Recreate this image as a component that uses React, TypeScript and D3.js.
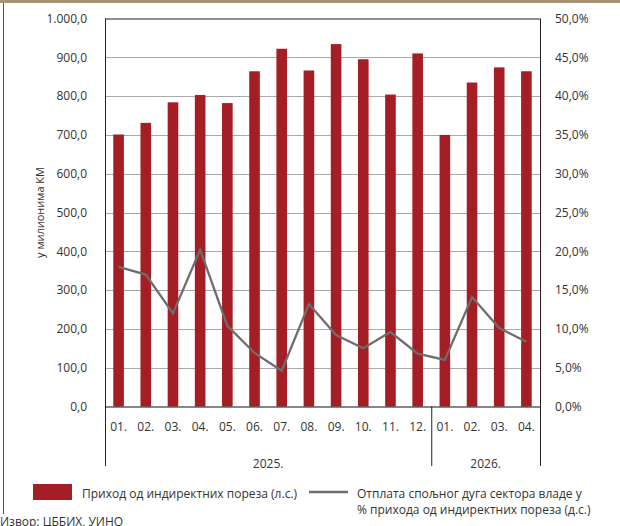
import React from "react";
import * as d3 from "d3";

const months = ["01.", "02.", "03.", "04.", "05.", "06.", "07.", "08.", "09.", "10.", "11.", "12.", "01.", "02.", "03.", "04."];
const years = ["2025.", "2026."];
const yearCounts = [12, 4];
const revenue = [701, 731, 784, 803, 782, 864, 922, 866, 934, 895, 804, 910, 700, 835, 874, 864];
const repaymentPct = [18.0, 17.0, 12.0, 20.2, 10.4, 6.9, 4.6, 13.2, 9.2, 7.5, 9.6, 6.8, 6.0, 14.1, 10.1, 8.35];
const leftTicks = [0, 100, 200, 300, 400, 500, 600, 700, 800, 900, 1000];
const rightTicks = [0, 5, 10, 15, 20, 25, 30, 35, 40, 45, 50];
const yTitle = "у милионима КМ";
const legendBar = "Приход од индиректних пореза (л.с.)";
const legendLine1 = "Отплата спољног дуга сектора владе у";
const legendLine2 = "% прихода од индиректних пореза (д.с.)";
const source = "Извор: ЦББИХ, УИНО";

const W = 620, H = 526;
const L = 105, R = 540, T = 18.5, B = 406.5;
const FONT = "'Open Sans', 'Noto Sans', sans-serif";
const TXT = "#333";
const BAR = "#a51d25";
const LINE = "#6d6d6d";

const fmtL = (v: number) => d3.format(",.1f")(v).replace(/,/g, "X").replace(/\./g, ",").replace(/X/g, ".");
const fmtR = (v: number) => d3.format(".1f")(v).replace(".", ",") + "%";

export default function App() {
  const idx = months.map((_, i) => i);
  const x = d3.scaleBand<number>().domain(idx).range([L, R]).paddingInner(0.61).paddingOuter(0.305);
  const yL = d3.scaleLinear().domain([0, 1000]).range([B, T]);
  const yR = d3.scaleLinear().domain([0, 50]).range([B, T]);
  const cx = (i: number) => (x(i) as number) + x.bandwidth() / 2;
  const step = (R - L) / months.length;
  const line = d3.line<number>().x((_, i) => cx(i)).y((d) => yR(d));

  const sepXs: number[] = [];
  let acc = 0;
  const yearCenters: number[] = [];
  yearCounts.forEach((c) => {
    const x0 = L + acc * step;
    acc += c;
    const x1 = L + acc * step;
    yearCenters.push((x0 + x1) / 2);
    sepXs.push(x1);
  });

  return (
    <svg width={W} height={H} style={{ position: "absolute", left: 0, top: 0, background: "#fff" }} fontFamily={FONT}>
      <rect x={0} y={0} width={W} height={3} fill="#a89273" />
      <line x1={3.5} x2={3.5} y1={3} y2={514} stroke="#555" strokeWidth={1} />

      {leftTicks.filter((t) => t > 0 && t < 1000).map((t) => (
        <line key={"g" + t} x1={L} x2={R} y1={Math.round(yL(t)) + 0.5} y2={Math.round(yL(t)) + 0.5} stroke="#a9a9a9" strokeWidth={1} />
      ))}

      {revenue.map((v, i) => (
        <rect key={"b" + i} x={x(i)} y={yL(v)} width={x.bandwidth()} height={B - yL(v)} fill={BAR} />
      ))}

      <path d={line(repaymentPct) || ""} fill="none" stroke={LINE} strokeWidth={2.3} strokeLinejoin="miter" />

      {/* frame */}
      <line x1={L} x2={R} y1={T + 0.5} y2={T + 0.5} stroke="#222" strokeWidth={1} />
      <line x1={L + 0.5} x2={L + 0.5} y1={T} y2={466} stroke="#222" strokeWidth={1} />
      {sepXs.map((sx, i) => (
        <line key={"s" + i} x1={sx + 0.5} x2={sx + 0.5} y1={i === sepXs.length - 1 ? T : B} y2={466} stroke="#222" strokeWidth={1} />
      ))}
      <line x1={L} x2={R} y1={B + 0.5} y2={B + 0.5} stroke="#111" strokeWidth={1.2} />

      {leftTicks.map((t) => (
        <text key={"l" + t} x={87} y={yL(t)} dy="0.35em" textAnchor="end" fontSize={12} fill={TXT}>{fmtL(t)}</text>
      ))}
      {rightTicks.map((t) => (
        <text key={"r" + t} x={555} y={yR(t)} dy="0.35em" textAnchor="start" fontSize={12} fill={TXT}>{fmtR(t)}</text>
      ))}

      <text transform={`translate(44,${(T + B) / 2}) rotate(-90)`} textAnchor="middle" fontSize={11} fill={TXT}>{yTitle}</text>

      {months.map((m, i) => (
        <text key={"m" + i} x={cx(i)} y={427} dy="0.35em" textAnchor="middle" fontSize={12} fill={TXT}>{m}</text>
      ))}
      {years.map((yv, i) => (
        <text key={"y" + i} x={yearCenters[i]} y={464} dy="0.35em" textAnchor="middle" fontSize={12} fill={TXT}>{yv}</text>
      ))}

      <rect x={33} y={484} width={39} height={16} fill={BAR} />
      <text x={82} y={494} dy="0.35em" fontSize={12} fill={TXT}>{legendBar}</text>
      <line x1={309} x2={348} y1={492} y2={492} stroke={LINE} strokeWidth={2.5} />
      <text x={357} y={494} dy="0.35em" fontSize={12} fill={TXT}>{legendLine1}</text>
      <text x={357} y={510} dy="0.35em" fontSize={12} fill={TXT}>{legendLine2}</text>

      <text x={0} y={522} dy="0.35em" fontSize={12} fill={TXT}>{source}</text>
    </svg>
  );
}
